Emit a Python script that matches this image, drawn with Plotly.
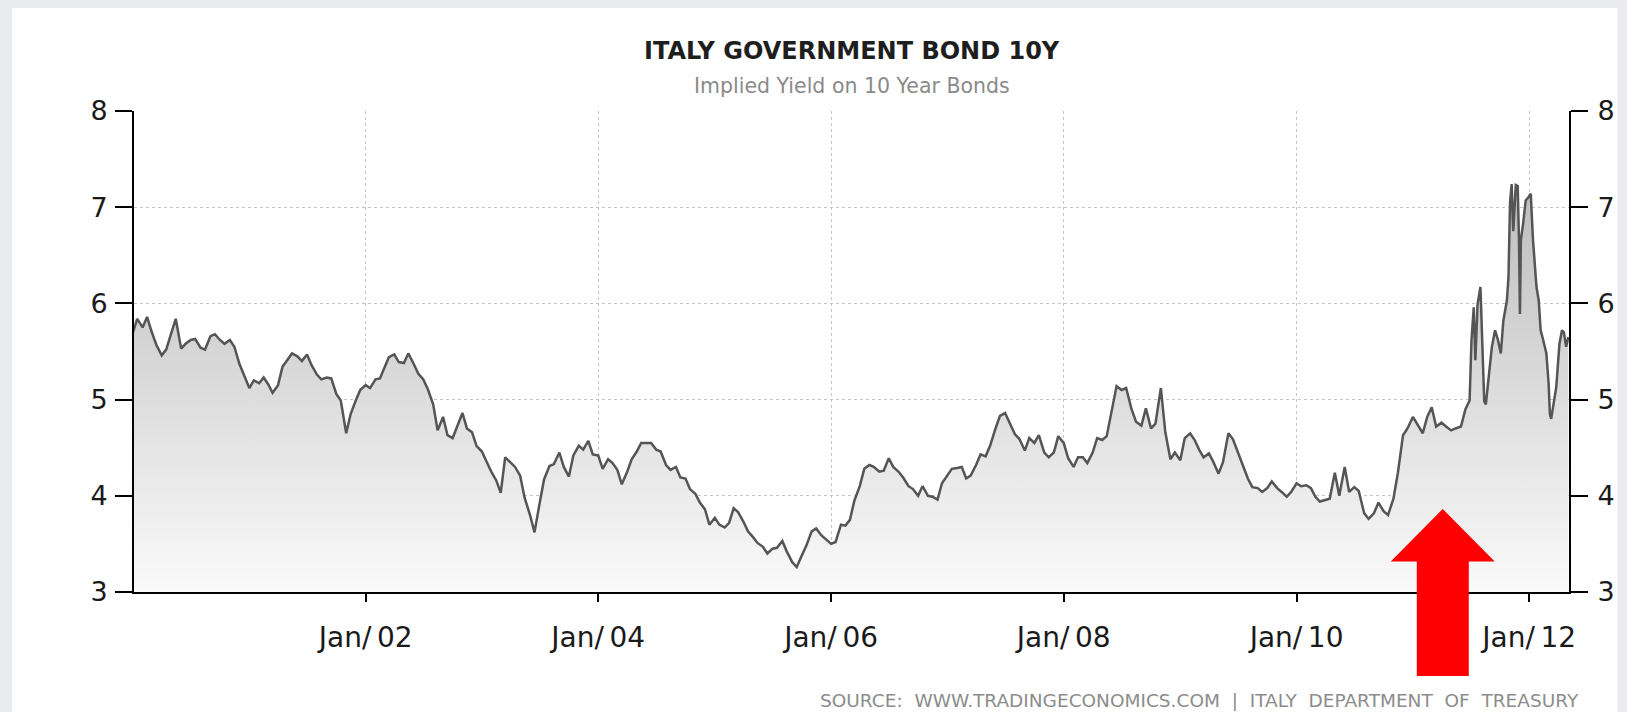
import pandas as pd
import plotly.graph_objects as go

# semi-monthly readings (1st / 15th of each month), Jan 2000 .. mid-Jun 2011
yield_semimonthly = [
    5.69, 5.84, 5.75, 5.86, 5.70, 5.57, 5.46, 5.52, 5.69, 5.84,
    5.53, 5.58, 5.62, 5.63, 5.54, 5.52, 5.66, 5.68, 5.62, 5.58,
    5.62, 5.55, 5.37, 5.25, 5.12, 5.20, 5.17, 5.23, 5.16, 5.07,
    5.15, 5.34, 5.41, 5.48, 5.45, 5.40, 5.47, 5.36, 5.26, 5.21,
    5.23, 5.22, 5.06, 4.99, 4.65, 4.85, 4.99, 5.10,
    5.15, 5.12, 5.21, 5.22, 5.33, 5.44, 5.47, 5.39, 5.38, 5.48,
    5.37, 5.27, 5.21, 5.11, 4.95, 4.68, 4.82, 4.63, 4.60, 4.72,
    4.86, 4.70, 4.66, 4.52, 4.46, 4.36, 4.24, 4.16, 4.03, 4.40,
    4.35, 4.30, 4.21, 3.98, 3.80, 3.62, 3.92, 4.17, 4.31, 4.33,
    4.45, 4.30, 4.20, 4.42, 4.52, 4.48, 4.57, 4.43,
    4.42, 4.28, 4.38, 4.34, 4.27, 4.12, 4.25, 4.38, 4.46, 4.55,
    4.55, 4.55, 4.48, 4.46, 4.32, 4.27, 4.30, 4.19, 4.18, 4.07,
    4.02, 3.93, 3.86, 3.70, 3.77, 3.70, 3.67, 3.72, 3.87, 3.83,
    3.73, 3.63, 3.57, 3.51, 3.47, 3.40, 3.45, 3.46, 3.53, 3.42,
    3.31, 3.26, 3.38, 3.48, 3.63, 3.66, 3.59, 3.55,
    3.50, 3.52, 3.70, 3.69, 3.75, 3.95, 4.10, 4.28, 4.32, 4.30,
    4.25, 4.26, 4.39, 4.30, 4.25, 4.19, 4.10, 4.07, 4.00, 4.10,
    4.00, 3.99, 3.96, 4.13, 4.21, 4.28, 4.29, 4.30, 4.18, 4.21,
    4.32, 4.43, 4.41, 4.52, 4.70, 4.83, 4.86, 4.76, 4.64, 4.59,
    4.47, 4.60, 4.55, 4.63, 4.45, 4.40, 4.45, 4.62,
    4.55, 4.39, 4.30, 4.40, 4.40, 4.34, 4.45, 4.60, 4.58, 4.62,
    4.89, 5.14, 5.10, 5.12, 4.90, 4.77, 4.73, 4.91, 4.70, 4.75,
    5.12, 4.66, 4.38, 4.45, 4.37, 4.60, 4.65, 4.58, 4.48, 4.40,
    4.44, 4.35, 4.23, 4.35, 4.65, 4.59, 4.45, 4.33, 4.18, 4.09,
    4.08, 4.04, 4.08, 4.15, 4.08, 4.04, 3.99, 4.04,
    4.13, 4.10, 4.11, 4.08, 3.99, 3.94, 3.96, 3.97, 4.24, 4.00,
    4.30, 4.04, 4.09, 4.05, 3.82, 3.76, 3.82, 3.93, 3.84, 3.80,
    3.97, 4.24, 4.63, 4.70, 4.82, 4.74, 4.65, 4.82, 4.92, 4.72,
    4.76, 4.72, 4.68, 4.70, 4.72, 4.90,
]

# crisis period read at finer spacing
crisis_dates = [
    "2011-06-28", "2011-07-04", "2011-07-11", "2011-07-16", "2011-07-23",
    "2011-08-01", "2011-08-06", "2011-08-13", "2011-08-18", "2011-08-27",
    "2011-09-06", "2011-09-16", "2011-09-25", "2011-10-04", "2011-10-12",
    "2011-10-23", "2011-10-28", "2011-11-02", "2011-11-07", "2011-11-12",
    "2011-11-20", "2011-11-26", "2011-11-30", "2011-12-03", "2011-12-06",
    "2011-12-13", "2011-12-21", "2011-12-29", "2012-01-06", "2012-01-13",
    "2012-01-24", "2012-01-31", "2012-02-06", "2012-02-14", "2012-02-24",
    "2012-03-02", "2012-03-06", "2012-03-10", "2012-03-19", "2012-03-26",
    "2012-04-05", "2012-04-13", "2012-04-19", "2012-04-26", "2012-05-03",
]
crisis_values = [
    4.99, 5.62, 5.96, 5.41, 5.99,
    6.17, 5.69, 4.98, 4.95, 5.23,
    5.55, 5.72, 5.62, 5.48, 5.82,
    6.03, 6.27, 7.05, 7.24, 6.75,
    7.23, 7.22, 6.66, 5.89, 6.66,
    6.83, 7.07, 7.10, 7.14, 6.66,
    6.17, 6.03, 5.72, 5.62, 5.48,
    5.17, 4.85, 4.80, 4.99, 5.13,
    5.58, 5.72, 5.70, 5.55, 5.65,
]

tick_years = [2002, 2004, 2006, 2008, 2010, 2012]
tick_labels = ["Jan/\u200902", "Jan/\u200904", "Jan/\u200906",
               "Jan/\u200908", "Jan/\u200910", "Jan/\u200912"]
y_ticks = [3, 4, 5, 6, 7, 8]

dates = list(pd.date_range("2000-01-01", periods=len(yield_semimonthly), freq="SMS"))
dates += list(pd.to_datetime(crisis_dates))
values = yield_semimonthly + crisis_values

FONT = "Verdana, DejaVu Sans, sans-serif"
L, R, T, B = 134, 44, 111, 120
W, H = 1627, 712
pw, ph = W - L - R, H - T - B


def px(xp):
    return (xp - L) / pw


def py(yp):
    return (H - B - yp) / ph


fig = go.Figure()
fig.add_trace(go.Scatter(
    x=dates, y=values, mode="lines",
    line=dict(color="#555555", width=2.5),
    fill="tozeroy",
    fillgradient=dict(type="vertical", start=3, stop=8,
                      colorscale=[[0, "#fafafa"], [1, "#b2b2b2"]]),
    hoverinfo="skip", showlegend=False,
))
# same series on the right-hand axis so it gets drawn
fig.add_trace(go.Scatter(
    x=dates, y=values, mode="lines", yaxis="y2",
    line=dict(width=0), opacity=0, hoverinfo="skip", showlegend=False,
))

axis_common = dict(
    range=[3, 8], tickvals=y_ticks, showline=True, linecolor="black", linewidth=2,
    ticks="outside", ticklen=17, tickwidth=2, tickcolor="black",
    tickfont=dict(family=FONT, size=27, color="#1a1a1a"),
    zeroline=False, fixedrange=True,
)

fig.update_layout(
    width=W, height=H,
    margin=dict(l=L, r=R, t=T, b=B),
    paper_bgcolor="#e9ebee",
    plot_bgcolor="white",
    showlegend=False,
    xaxis=dict(
        range=["2000-01-05", "2012-05-05"],
        tickvals=[f"{y}-01-01" for y in tick_years],
        ticktext=tick_labels,
        showline=True, linecolor="black", linewidth=2,
        ticks="outside", ticklen=8, tickwidth=2, tickcolor="black",
        tickfont=dict(family=FONT, size=28, color="#1a1a1a"),
        ticklabelstandoff=11,
        showgrid=True, gridcolor="#c4c4c4", gridwidth=1, griddash="dot",
        zeroline=False,
    ),
    yaxis=dict(**axis_common, side="left", ticklabelstandoff=2,
               showgrid=True, gridcolor="#c4c4c4", gridwidth=1, griddash="dot"),
    yaxis2=dict(**axis_common, side="right", overlaying="y", ticklabelstandoff=4,
                showgrid=False),
    shapes=[
        # white chart panel over the grey screenshot background
        dict(type="rect", xref="paper", yref="paper", layer="below",
             x0=px(11), x1=px(W + 5), y0=py(H + 5), y1=py(8),
             fillcolor="white", line=dict(width=0)),
        # red arrow
        dict(type="path", xref="paper", yref="paper", layer="above",
             path=(f"M {px(1455.5)},{py(509)} L {px(1508)},{py(561.5)} "
                   f"L {px(1481.8)},{py(561.5)} L {px(1481.8)},{py(676)} "
                   f"L {px(1429.3)},{py(676)} L {px(1429.3)},{py(561.5)} "
                   f"L {px(1403)},{py(561.5)} Z"),
             fillcolor="#ff0000", line=dict(width=0)),
    ],
    annotations=[
        dict(text="<b>ITALY GOVERNMENT BOND 10Y</b>", xref="paper", yref="paper",
             x=0.5, y=py(51), xanchor="center", yanchor="middle", showarrow=False,
             font=dict(family=FONT, size=24, color="#1e1e1e")),
        dict(text="Implied Yield on 10 Year Bonds", xref="paper", yref="paper",
             x=0.5, y=py(86), xanchor="center", yanchor="middle", showarrow=False,
             font=dict(family=FONT, size=20.5, color="#8a8a8a")),
        dict(text="SOURCE:  WWW.TRADINGECONOMICS.COM  |  ITALY  DEPARTMENT  OF  TREASURY",
             xref="paper", yref="paper", x=px(1595), y=py(700),
             xanchor="right", yanchor="middle", showarrow=False,
             font=dict(family=FONT, size=18.5, color="#8c8c8c")),
    ],
)

fig.write_html("out.html", config={"displayModeBar": False},
               post_script="document.body.style.margin='0';")
